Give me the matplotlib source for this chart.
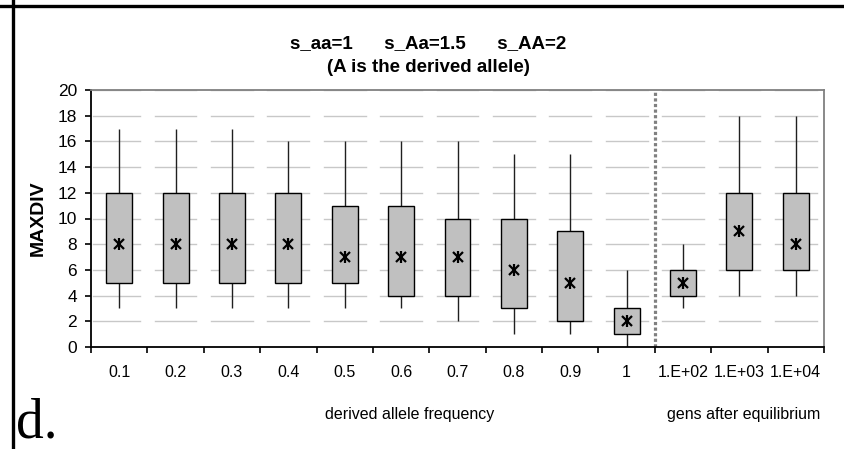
import matplotlib
matplotlib.use("Agg")
import matplotlib.pyplot as plt
import numpy as np

plt.rcParams['font.family'] = ['Liberation Sans', 'DejaVu Sans']

# categories: allele frequencies then generations after equilibrium
labels = ['0.1', '0.2', '0.3', '0.4', '0.5', '0.6', '0.7', '0.8', '0.9', '1',
          '1.E+02', '1.E+03', '1.E+04']
whisk_lo = [3, 3, 3, 3, 3, 3, 2, 1, 1, 0, 3, 4, 4]
box_lo   = [5, 5, 5, 5, 5, 4, 4, 3, 2, 1, 4, 6, 6]
box_hi   = [12, 12, 12, 12, 11, 11, 10, 10, 9, 3, 6, 12, 12]
whisk_hi = [17, 17, 17, 16, 16, 16, 16, 15, 15, 6, 8, 18, 18]
median   = [8, 8, 8, 8, 7, 7, 7, 6, 5, 2, 5, 9, 8]
yticks = list(range(0, 21, 2))

W, H = 844, 449
fig = plt.figure(figsize=(W / 100, H / 100), dpi=100)
ax = fig.add_axes([91 / W, 1 - 347 / H, (824 - 91) / W, (347 - 90) / H])

n = len(labels)
x = np.arange(n)

# broken gridlines (gaps at category boundaries)
gap = 0.13
for yv in yticks[1:]:
    for i in range(n):
        x0 = i - 0.5 + (gap if i > 0 else 0.03)
        x1 = i + 0.5 - gap
        ax.plot([x0, x1], [yv, yv], color='#c8c8c8', lw=1.0, zorder=1)

# whiskers
ax.vlines(x, whisk_lo, whisk_hi, color='#202020', lw=1.0, zorder=2)
# boxes
bw = 0.46
ax.bar(x, np.array(box_hi) - np.array(box_lo), bottom=box_lo, width=bw,
       color='#c0c0c0', edgecolor='black', linewidth=1.0, zorder=3)
# median markers (excel star)
ax.plot(x, median, linestyle='none', marker='x', ms=6.5, mew=1.6, color='black', zorder=4)
ax.plot(x, median, linestyle='none', marker='|', ms=8, mew=1.6, color='black', zorder=4)

# separator between frequencies and generations
ax.plot([9.5, 9.5], [0, 20], color='#808080', lw=2.3, linestyle=(0, (1, 0.75)), zorder=2)

ax.set_xlim(-0.5, n - 0.5)
ax.set_ylim(0, 20)
ax.set_yticks(yticks)
ax.set_xticks(np.arange(n + 1) - 0.5)
ax.set_xticklabels([])
ax.set_xticks(x, minor=True)
ax.set_xticklabels(labels, minor=True)
ax.tick_params(axis='x', which='major', direction='out', length=4, width=1.2, color='black')
ax.tick_params(axis='x', which='minor', length=0, pad=13, labelsize=11.5)
ax.tick_params(axis='y', direction='out', length=4, width=1.2, pad=6, labelsize=12.5)

for s in ['left', 'bottom']:
    ax.spines[s].set_color('black')
    ax.spines[s].set_linewidth(1.3)
for s in ['top', 'right']:
    ax.spines[s].set_color('#808080')
    ax.spines[s].set_linewidth(1.3)

ax.set_ylabel('MAXDIV', fontsize=14, fontweight='bold', labelpad=8)

fig.text(428 / W, 1 - 44 / H, 's_aa=1      s_Aa=1.5      s_AA=2',
         ha='center', va='center', fontsize=13.5, fontweight='bold')
fig.text(428 / W, 1 - 67 / H, '(A is the derived allele)',
         ha='center', va='center', fontsize=13.5, fontweight='bold')

fig.text(410 / W, 1 - 415 / H, 'derived allele frequency', ha='center', va='center', fontsize=11.5)
fig.text(744 / W, 1 - 415 / H, 'gens after equilibrium', ha='center', va='center', fontsize=11.5)

fig.text(16 / W, 1 - 438 / H, 'd.', ha='left', va='baseline', fontsize=40,
         family=['Liberation Serif', 'DejaVu Serif'])

# panel frame lines
fig.add_artist(plt.Line2D([0, 1], [1 - 6 / H, 1 - 6 / H], transform=fig.transFigure,
                          color='black', lw=2.4))
fig.add_artist(plt.Line2D([13.3 / W, 13.3 / W], [0, 1], transform=fig.transFigure,
                          color='black', lw=2.4))

fig.savefig('out.png', dpi=100)
